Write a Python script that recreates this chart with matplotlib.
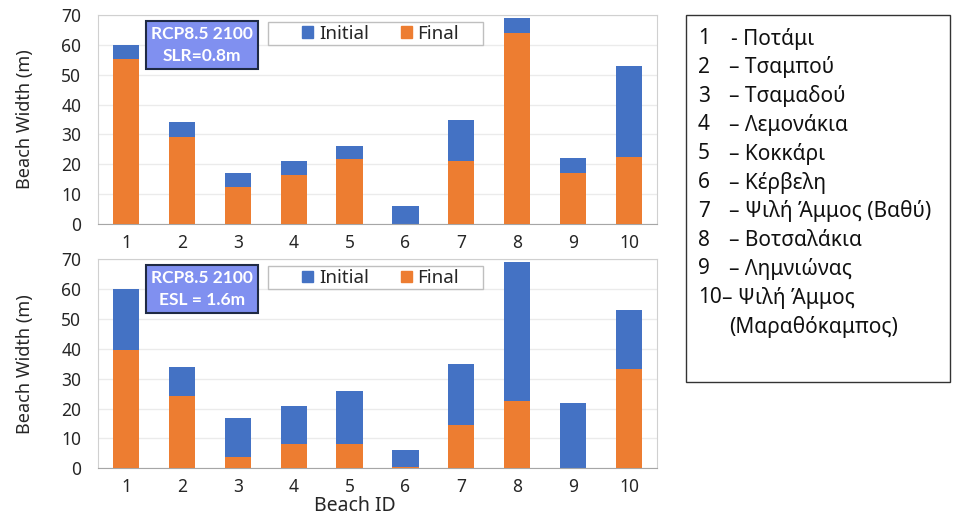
import numpy as np
import matplotlib.pyplot as plt
from matplotlib.patches import Patch, Rectangle

plt.rcParams['font.family'] = ['Noto Sans', 'DejaVu Sans']

# Δεδομένα (πλάτος παραλίας σε m)
beach_ids = [1, 2, 3, 4, 5, 6, 7, 8, 9, 10]
initial = [60, 34, 17, 21, 26, 6, 35, 69, 22, 53]
final_slr = [55.4, 29, 12.5, 16.4, 21.7, 0, 21, 63.9, 17, 22.4]
final_esl = [39.7, 24.3, 3.9, 8.2, 8.3, 0.3, 14.4, 22.7, 0, 33.2]
scenarios = ["RCP8.5 2100\nSLR=0.8m", "RCP8.5 2100\nESL = 1.6m"]
yticks = [0, 10, 20, 30, 40, 50, 60, 70]

beach_names = [
    "- Ποτάμι",
    "– Τσαμπού",
    "– Τσαμαδού",
    "– Λεμονάκια",
    "– Κοκκάρι",
    "– Κέρβελη",
    "– Ψιλή Άμμος (Βαθύ)",
    "– Βοτσαλάκια",
    "– Λημνιώνας",
    "– Ψιλή Άμμος",
]
extra_line = "(Μαραθόκαμπος)"

blue = '#4472C4'
orange = '#ED7D31'
txt = '#262626'

fig = plt.figure(figsize=(9.63, 5.17), dpi=100)
ax_top = fig.add_axes([0.1018, 0.5667, 0.5804, 0.4043])
ax_bot = fig.add_axes([0.1018, 0.0942, 0.5804, 0.4039])

for ax, fin, label in zip([ax_top, ax_bot], [final_slr, final_esl], scenarios):
    ax.bar(beach_ids, initial, width=0.47, color=blue, zorder=2)
    ax.bar(beach_ids, fin, width=0.47, color=orange, zorder=3)
    ax.set_xlim(0.5, 10.5)
    ax.set_ylim(0, 70)
    ax.set_yticks(yticks)
    ax.set_xticks(beach_ids)
    ax.tick_params(length=0, labelsize=12.5, colors=txt)
    ax.tick_params(axis='x', pad=7)
    ax.tick_params(axis='y', pad=12)
    ax.grid(axis='y', color='#EBEBEB', linewidth=1, zorder=0)
    for s in ['top', 'right', 'left']:
        ax.spines[s].set_color('#D0D0D0')
    ax.spines['bottom'].set_color('#A6A6A6')
    ax.set_ylabel('Beach Width (m)', fontsize=13, color=txt, labelpad=20)

    # leyenda: marco dibujado aparte para controlar el relleno
    ax.add_patch(Rectangle((0.3041, 0.8565), 0.3846, 0.110, transform=ax.transAxes,
                           facecolor='white', edgecolor='#BFBFBF', linewidth=1, zorder=4))
    handles = [Patch(color=blue), Patch(color=orange)]
    leg = ax.legend(handles, ['Initial', 'Final'], ncol=2, loc='center left',
                    bbox_to_anchor=(0.365, 0.911), fontsize=13.5, frameon=False,
                    handlelength=0.6, handleheight=0.6, columnspacing=1.7,
                    handletextpad=0.3, borderpad=0, borderaxespad=0)
    leg.set_zorder(6)
    for t in leg.get_texts():
        t.set_color(txt)

    ax.text(0.186, 0.857, label, transform=ax.transAxes, ha='center', va='center',
            fontsize=12.5, fontweight='bold', family=['Lato', 'DejaVu Sans'],
            color='white', linespacing=1.45, zorder=7,
            bbox=dict(boxstyle='square,pad=0.3', facecolor='#8090F0',
                      edgecolor='#1F2A44', linewidth=1.5))

ax_bot.set_xlabel('Beach ID', fontsize=14, color=txt)
ax_bot.xaxis.set_label_coords(0.46, -0.135)

# Πλαίσιο με τα ονόματα των παραλιών
fig.patches.append(Rectangle((0.7124, 0.261), 0.2741, 0.71, transform=fig.transFigure,
                             fill=False, edgecolor='#333333', linewidth=1))
y0 = 1 - 38.5 / 517
dy = 28.8 / 517
for i, name in enumerate(beach_names):
    y = y0 - i * dy
    name_x = 729 if i < 9 else 722
    if i == 0:
        name_x = 731
    fig.text(698 / 963, y, str(beach_ids[i]), fontsize=15, va='center', ha='left', color='#111111')
    fig.text(name_x / 963, y, name, fontsize=15, va='center', ha='left', color='#111111')
fig.text(729 / 963, y0 - 10 * dy, extra_line, fontsize=15, va='center', ha='left', color='#111111')

fig.savefig('out.png', dpi=100)
